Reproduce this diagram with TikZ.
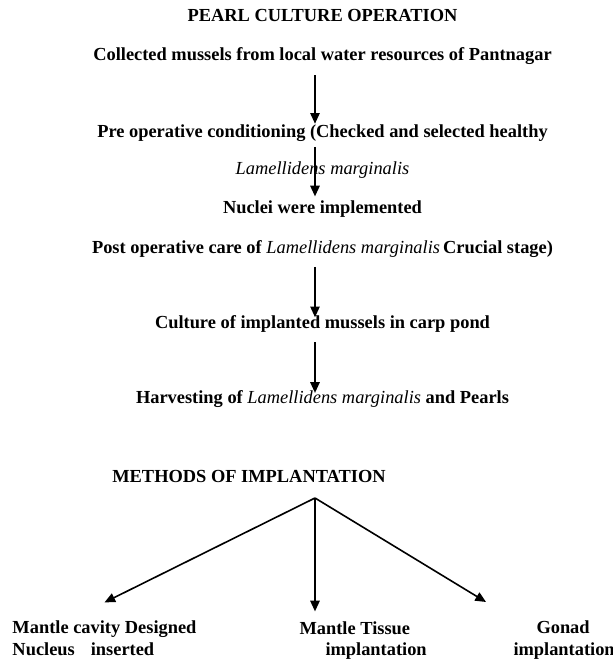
\documentclass[tikz,border=0pt]{standalone}
\usepackage{fontspec}
\setmainfont{Liberation Serif}
\usetikzlibrary{arrows.meta}
\tikzset{every picture/.style={line width=0.75pt}}
\tikzset{
	txt/.style={font=\fontsize{13.8}{16.5}\selectfont\bfseries, inner sep=0pt, anchor=base},
	txtl/.style={txt, anchor=base west},
	flow/.style={line width=1.2pt, -{Triangle[length=8pt,width=7pt]}}}
\newcommand{\species}[1]{{\mdseries\itshape #1}}

\begin{document}
\begin{tikzpicture}[x=0.75pt,y=0.75pt,yscale=-1,xscale=1]
	\useasboundingbox (0,0) rectangle (613,662);
	\coordinate (spine) at (315,0);

	% Text Node
	\node [txt] (title) at (322.5,21) {PEARL CULTURE OPERATION};
	% Text Node
	\node [txt] (collect) at (322.5,60) {Collected mussels from local water resources of Pantnagar};
	% Text Node
	\node [txt] (preop) at (322.5,137) {Pre operative conditioning (Checked and selected healthy};
	% Text Node
	\node [txt] (healthy) at (322.5,174) {\species{Lamellidens marginalis}};
	% Text Node
	\node [txt] (nuclei) at (322.5,213) {Nuclei were implemented};
	% Text Node
	\node [txt] (postop) at (322.5,253) {Post operative care of \species{Lamellidens marginalis}\,Crucial stage)};
	% Text Node
	\node [txt] (culture) at (322.5,328) {Culture of implanted mussels in carp pond};
	% Text Node
	\node [txt] (harvest) at (322.5,403) {Harvesting of \species{Lamellidens marginalis} and Pearls};

	%Straight Lines
	\draw [flow, shorten <=8pt] (collect.south -| spine) -- (preop.north -| spine);
	\draw [flow, shorten <=4pt, shorten >=2.5pt] (preop.south -| spine) -- (nuclei.north -| spine);
	\draw [flow, shorten <=7pt, shorten >=-2pt] (postop.south -| spine) -- (culture.north -| spine);
	\draw [flow, shorten <=7.5pt, shorten >=-2.5pt] (culture.south -| spine) -- (harvest.north -| spine);

	% Text Node
	\node [txt] (methods) at (249,482) {METHODS OF IMPLANTATION};
	% Text Node
	\node [txtl] (cavityA) at (12,633) {Mantle cavity Designed};
	\node [txtl] (cavityB) at (12,655) {Nucleus\hspace{12pt}inserted};
	% Text Node
	\node [txtl] (tissueA) at (299,634) {Mantle Tissue};
	\node [txtl] (tissueB) at (325,655) {implantation};
	% Text Node
	\node [txtl] (gonadA) at (536,633) {Gonad};
	\node [txtl] (gonadB) at (513,655) {implantation};

	\coordinate (apex) at (315,498);
	\coordinate (tipR) at (486,602);
	%Straight Lines
	\draw [flow] (apex) -- ([yshift=-13pt]cavityA.north);
	\draw [flow, shorten >=7pt] (apex) -- (apex |- tissueA.north);
	\draw [flow] (apex) -- (tipR);

\end{tikzpicture}
\end{document}
